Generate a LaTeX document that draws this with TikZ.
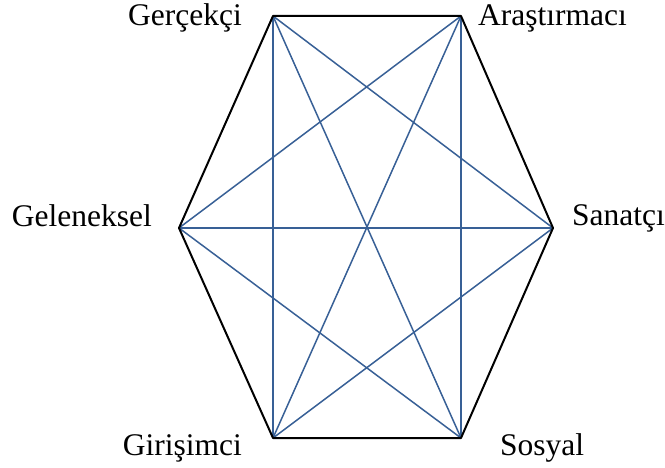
\documentclass[tikz,border=0pt]{standalone}
\usepackage{fontspec}
\setmainfont{Liberation Serif}
\definecolor{diagblue}{RGB}{56,96,150}
\begin{document}
\begin{tikzpicture}[x=1pt,y=-1pt,
  edge/.style={black,line width=2pt,line join=round},
  diag/.style={diagblue,line width=1.5pt},
  lbl/.style={font=\fontsize{31.5}{34}\selectfont,inner sep=0pt}]
\useasboundingbox (0,0) rectangle (665,468);
\coordinate (A) at (273,16);
\coordinate (B) at (461,16);
\coordinate (C) at (553,228);
\coordinate (D) at (461,438);
\coordinate (E) at (273,438);
\coordinate (F) at (179,228);
% diagonals
\draw[diag] (A) -- (D);
\draw[diag] (A) -- (E);
\draw[diag] (A) -- (C);
\draw[diag] (B) -- (F);
\draw[diag] (B) -- (E);
\draw[diag] (B) -- (D);
\draw[diag] (F) -- (C);
\draw[diag] (F) -- (D);
\draw[diag] (C) -- (E);
% hexagon
\draw[edge] (A) -- (B) -- (C) -- (D) -- (E) -- (F) -- cycle;
% labels
\node[lbl,anchor=base east] (lA) at (242,26) {Gerçekçi};
\node[lbl,anchor=base west] (lB) at (478,26) {Araştırmacı};
\node[lbl,anchor=base west] (lC) at (572,226) {Sanatçı};
\node[lbl,anchor=base west] (lD) at (500,455) {Sosyal};
\node[lbl,anchor=base east] (lE) at (242,455) {Girişimci};
\node[lbl,anchor=base east] (lF) at (152,227) {Geleneksel};
\end{tikzpicture}
\end{document}
